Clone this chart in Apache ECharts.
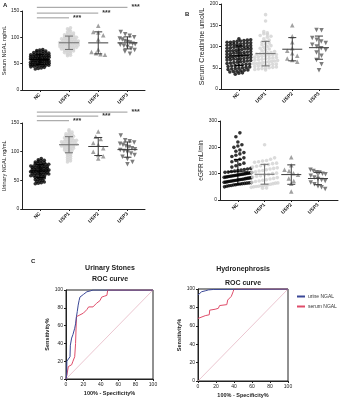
<!DOCTYPE html>
<html>
<head>
<meta charset="utf-8">
<script src="https://cdn.jsdelivr.net/npm/echarts@6/dist/echarts.min.js"></script>
<style>
  html, body { margin: 0; padding: 0; background: #fff; }
  #chart { width: 344px; height: 400px; }
</style>
</head>
<body>
<div id="chart"></div>
<script>
// group names
var cats = ['NC', 'USP1', 'USP2', 'USP3'];

// A, top: serum NGAL ng/mL
var serumNgalNC = [40,41,42,43,44,45,45,46,46,47,47,48,48,49,49,50,50,50,51,51,52,52,53,53,54,54,55,55,55,56,56,57,57,58,58,59,59,60,60,60,61,61,62,62,63,63,64,64,65,65,66,66,67,67,68,68,69,70,70,71,72,72,73,74,75,76,77];
var serumNgalUSP1 = [65,66,68,70,71,72,73,74,75,75,76,77,78,78,79,80,80,81,82,82,83,84,84,85,85,86,86,87,87,88,88,89,89,90,90,90,91,91,92,92,93,93,94,95,95,96,96,97,98,98,99,100,100,101,102,103,104,105,106,107,108,110,112,114,116,118];
var serumNgalUSP2 = [122,110,109,104,96,77,72,70,68,67];
var serumNgalUSP3 = [110,106,103,100,98,96,93,91,90,88,87,86,84,82,79,76,73,69];

// A, bottom: urinary NGAL ng/mL
var urineNgalNC = [44,45,46,47,48,49,50,51,52,53,54,55,55,56,57,58,58,59,60,60,61,61,62,62,63,63,64,64,65,65,66,66,67,67,68,68,69,69,70,70,71,71,72,72,73,73,74,74,75,75,76,76,77,78,78,79,80,80,81,82,83,84,85,86,88];
var urineNgalUSP1 = [82,84,86,88,90,92,94,95,97,98,100,101,102,103,104,105,106,107,108,108,109,110,110,111,112,112,113,114,114,115,116,116,117,118,118,119,120,120,121,122,123,124,125,126,127,128,129,130,131,132,134,136,138];
var urineNgalUSP2 = [135,126,122,115,112,106,100,94,92,88];
var urineNgalUSP3 = [128,120,118,116,114,112,110,108,106,104,103,101,99,97,94,91,87,82,78];

// B, top: serum creatinine umol/L
var creatNC = [35,37,38,40,41,42,43,44,45,46,47,48,49,50,51,52,53,54,55,56,57,58,59,60,61,62,63,64,65,66,67,68,69,70,70,71,72,73,74,75,75,76,77,78,79,80,80,81,82,83,84,85,85,86,87,88,89,90,90,91,92,93,94,95,95,96,97,98,99,100,100,101,102,103,104,105,105,106,107,108,109,110,110,111,112,113,114,115,116,118];
var creatUSP1 = [45,46,47,48,49,50,51,52,53,54,55,56,57,58,59,60,60,61,62,63,64,65,66,67,68,69,70,71,72,73,74,75,76,77,78,79,80,81,82,83,84,85,86,88,90,92,94,96,98,100,102,104,106,108,110,112,115,118,122,126,130,135,132,128,124,160,175];
var creatUSP2 = [150,124,110,96,90,84,78,72,68,64];
var creatUSP3 = [139,138,120,116,112,108,104,100,96,92,86,78,68,58,44];

// B, bottom: eGFR mL/min
var egfrNC = [50,52,54,55,57,58,60,61,62,63,64,65,66,67,68,69,70,71,72,73,74,75,76,77,78,79,80,81,82,83,84,85,86,87,88,89,90,91,92,93,94,95,96,97,98,99,100,101,102,103,104,105,106,108,110,112,114,116,118,120,125,130,135,140,145,150,155,160,165,170,175,180,185,190,200,205,210,220,240,255];
var egfrUSP1 = [45,46,48,50,51,52,54,55,57,58,60,62,64,65,67,70,72,75,77,80,82,85,87,90,92,95,97,100,102,105,107,110,112,115,118,120,122,125,128,130,133,135,138,140,143,145,148,150,155,160,210];
var egfrUSP2 = [162,132,115,110,102,96,82,72,62,32];
var egfrUSP3 = [115,110,105,104,100,98,92,85,80,76,72,66,60,52,48,42];

// significance brackets: [from group, to group]
var sigPairs = [[1, 4], [1, 3], [1, 2]];

// C: ROC curves [100% - specificity, sensitivity]
var stonesUrine = [[0,0],[0.8,4.5],[1,20],[1.5,20],[4.6,25],[5,38],[6.5,46],[8,50],[10,57],[11,62],[12,70],[13,76],[14,83],[15,88],[16,92],[18,93],[20,95],[24,98],[28,99],[31,100],[100,100]];
var stonesSerum = [[0,0],[1,4.5],[2.7,14],[4,15],[6.5,16],[8,20],[10,25],[11,40],[12,70],[14,71],[16,72],[20,74],[22,75],[24,78],[26,81],[31,81],[33,83],[35,85],[37,86],[39,88],[41,92],[44,93],[47,94],[48,100],[100,100]];
var hydroUrine = [[0,93.5],[1.5,95],[4,97],[8,98],[11.5,99],[17,99.5],[19,100],[100,100]];
var hydroSerum = [[0,68],[1.5,70],[8,71],[12.5,72],[13,77],[19,78],[22.6,79],[24,82],[32,83],[33,88],[35,90],[37,92],[39,97],[40,100],[100,100]];

var FONT = 'Liberation Sans, Arial, sans-serif';
var groupStyle = [
  { symbol: 'circle', size: 3.6, color: '#000000', bar: '#000000' },
  { symbol: 'circle', size: 3.6, color: '#d2d2d2', bar: '#6e6e6e' },
  { symbol: 'triangle', size: 4.5, color: '#8a8a8a', bar: '#3c3c3c' },
  { symbol: 'path://M0,0L10,0L5,9Z', size: 4.5, color: '#5c5c5c', bar: '#3c3c3c' }
];
// sideways spreading for dense (NC, USP1) and sparse (USP2, USP3) columns
var denseSpread = { rowPx: 2, colPx: 3, maxW: 21 };
var sparseSpread = { rowPx: 7, colPx: 5, maxW: 18 };

var panels = [
  { left: 22, top: 11, width: 123, height: 79, max: 150, interval: 50, xmin: 0.4, xmax: 4.6,
    name: 'Serum NGAL ng/mL', nameSize: 5.5, nameGap: 15, dense: denseSpread,
    groups: [serumNgalNC, serumNgalUSP1, serumNgalUSP2, serumNgalUSP3], sig: [157, 146, 137] },
  { left: 22, top: 123, width: 123, height: 86, max: 150, interval: 50, xmin: 0.4, xmax: 4.6,
    name: 'Urinary NGAL ng/mL', nameSize: 5.5, nameGap: 15, dense: denseSpread,
    groups: [urineNgalNC, urineNgalUSP1, urineNgalUSP2, urineNgalUSP3], sig: [169, 162, 154] },
  { left: 221, top: 4, width: 118, height: 85, max: 200, interval: 50, xmin: 0.33, xmax: 4.75,
    name: 'Serum Creatinine umol/L', nameSize: 7, nameGap: 14, dense: { rowPx: 3, colPx: 3.6, maxW: 27 },
    groups: [creatNC, creatUSP1, creatUSP2, creatUSP3] },
  { left: 220, top: 121, width: 118, height: 79, max: 300, interval: 100, xmin: 0.33, xmax: 4.75,
    name: 'eGFR mL/min', nameSize: 6.5, nameGap: 15, dense: { rowPx: 5, colPx: 4, maxW: 29 },
    groups: [egfrNC, egfrUSP1, egfrUSP2, egfrUSP3] }
];

// spread the points of one column sideways, row by row, like a column scatter plot
function swarm(vals, cx, p, sp) {
  var ky = p.height / p.max, kx = p.width / (p.xmax - p.xmin);
  var rows = {};
  vals.forEach(function (v) {
    var r = Math.round(v * ky / sp.rowPx);
    (rows[r] = rows[r] || []).push(v);
  });
  var out = [];
  Object.keys(rows).forEach(function (k) {
    var list = rows[k], n = list.length;
    var step = n * sp.colPx > sp.maxW ? sp.maxW / n : sp.colPx;
    list.forEach(function (v, j) {
      out.push([cx + (j - (n - 1) / 2) * step / kx, v]);
    });
  });
  return out;
}

function meanSd(vals) {
  var m = vals.reduce(function (a, b) { return a + b; }, 0) / vals.length;
  var s = Math.sqrt(vals.reduce(function (a, b) { return a + (b - m) * (b - m); }, 0) / (vals.length - 1));
  return [m, s];
}

var grids = [], xAxes = [], yAxes = [], series = [];

panels.forEach(function (p, i) {
  grids.push({ left: p.left, top: p.top, width: p.width, height: p.height });
  xAxes.push({
    type: 'value', gridIndex: i, min: p.xmin, max: p.xmax,
    axisLine: { lineStyle: { color: '#222', width: 1 } },
    axisTick: { customValues: [1, 2, 3, 4], length: 2, lineStyle: { color: '#222' } },
    axisLabel: { customValues: [1, 2, 3, 4], rotate: 45, margin: 4, fontSize: 5, fontWeight: 'bold',
      color: '#222', fontFamily: FONT, formatter: function (v) { return cats[Math.round(v) - 1]; } },
    splitLine: { show: false }
  });
  yAxes.push({
    type: 'value', gridIndex: i, min: 0, max: p.max, interval: p.interval,
    name: p.name, nameLocation: 'middle', nameGap: p.nameGap, nameRotate: 90,
    nameTextStyle: { fontSize: p.nameSize, color: '#222', fontFamily: FONT },
    axisLine: { show: true, lineStyle: { color: '#222', width: 1 } },
    axisTick: { show: true, length: 2, lineStyle: { color: '#222' } },
    axisLabel: { fontSize: 5, color: '#222', margin: 3, fontFamily: FONT },
    splitLine: { show: false }
  });
  p.groups.forEach(function (vals, g) {
    var st = groupStyle[g];
    series.push({
      type: 'scatter', xAxisIndex: i, yAxisIndex: i, symbol: st.symbol, symbolSize: st.size,
      itemStyle: { color: st.color }, silent: true, z: 2,
      data: swarm(vals, g + 1, p, g < 2 ? p.dense : sparseSpread)
    });
    var ms = meanSd(vals);
    series.push({
      type: 'custom', xAxisIndex: i, yAxisIndex: i, z: 3, silent: true,
      data: [[g + 1, ms[0], ms[0] - ms[1], ms[0] + ms[1]]],
      renderItem: function (params, api) {
        var c = api.coord([api.value(0), api.value(1)]);
        var lo = api.coord([api.value(0), api.value(2)]);
        var hi = api.coord([api.value(0), api.value(3)]);
        var sty = { stroke: st.bar, lineWidth: 1 };
        return { type: 'group', children: [
          { type: 'line', shape: { x1: c[0] - 10, y1: c[1], x2: c[0] + 10, y2: c[1] }, style: sty },
          { type: 'line', shape: { x1: c[0], y1: lo[1], x2: c[0], y2: hi[1] }, style: sty },
          { type: 'line', shape: { x1: c[0] - 4, y1: lo[1], x2: c[0] + 4, y2: lo[1] }, style: sty },
          { type: 'line', shape: { x1: c[0] - 4, y1: hi[1], x2: c[0] + 4, y2: hi[1] }, style: sty }
        ] };
      }
    });
  });
  if (p.sig) {
    sigPairs.forEach(function (pr, k) {
      series.push({
        type: 'line', xAxisIndex: i, yAxisIndex: i, clip: false, symbol: 'none', silent: true,
        lineStyle: { color: '#999', width: 1 },
        data: [[pr[0] - 0.1, p.sig[k]], [pr[1], p.sig[k]]],
        endLabel: { show: true, formatter: '***', distance: 4, fontSize: 7, fontWeight: 'bold', color: '#333' }
      });
    });
  }
});

// ROC panels
var rocPanels = [
  { left: 66, top: 290, width: 87, height: 89, urine: stonesUrine, serum: stonesSerum },
  { left: 198, top: 289, width: 90, height: 92, urine: hydroUrine, serum: hydroSerum }
];
rocPanels.forEach(function (r) {
  var i = grids.length;
  grids.push({ left: r.left, top: r.top, width: r.width, height: r.height, show: true,
    borderColor: '#222', borderWidth: 1, backgroundColor: 'transparent' });
  var axisCommon = {
    type: 'value', gridIndex: i, min: 0, max: 100, interval: 20, nameLocation: 'middle',
    nameTextStyle: { fontSize: 5.5, fontWeight: 'bold', color: '#222', fontFamily: FONT },
    axisLine: { lineStyle: { color: '#222' } },
    axisTick: { length: 2, lineStyle: { color: '#222' } },
    axisLabel: { fontSize: 5, color: '#222', margin: 3, fontFamily: FONT },
    splitLine: { show: false }
  };
  xAxes.push(Object.assign({}, axisCommon, { name: '100% - Specificity%', nameGap: 11 }));
  yAxes.push(Object.assign({}, axisCommon, { name: 'Sensitivity%', nameGap: 15, nameRotate: 90 }));
  series.push({ type: 'line', xAxisIndex: i, yAxisIndex: i, symbol: 'none', silent: true,
    lineStyle: { color: '#e6b8c4', width: 0.8 }, data: [[0, 0], [100, 100]] });
  series.push({ name: 'serum NGAL', type: 'line', xAxisIndex: i, yAxisIndex: i, symbol: 'none',
    lineStyle: { color: '#df4d6a', width: 1 }, itemStyle: { color: '#df4d6a' }, data: r.serum });
  series.push({ name: 'urine NGAL', type: 'line', xAxisIndex: i, yAxisIndex: i, symbol: 'none',
    lineStyle: { color: '#3a4796', width: 1 }, itemStyle: { color: '#3a4796' }, data: r.urine });
});

function txt(text, left, top, size, align) {
  return { text: text, left: left, top: top, textAlign: align || 'left', padding: 0,
    textStyle: { fontSize: size, fontWeight: 'bold', color: '#222', fontFamily: FONT } };
}

var option = {
  animation: false,
  backgroundColor: '#fff',
  title: [
    txt('A', 3, 2, 6),
    txt('B', 185, 11, 6),
    txt('C', 31, 258, 6),
    txt('Urinary Stones', 110, 265, 7, 'center'),
    txt('ROC curve', 110, 276, 7, 'center'),
    txt('Hydronephrosis', 243, 266, 7, 'center'),
    txt('ROC curve', 243, 280, 7, 'center')
  ],
  legend: {
    data: ['urine NGAL', 'serum NGAL'], orient: 'vertical', left: 297, top: 294, padding: 0,
    itemWidth: 8, itemHeight: 2, itemGap: 5, icon: 'rect',
    textStyle: { fontSize: 5, color: '#333', fontFamily: FONT, padding: [0, 0, 0, -2] }
  },
  grid: grids,
  xAxis: xAxes,
  yAxis: yAxes,
  series: series
};

var chart = echarts.init(document.getElementById('chart'), null, { renderer: 'canvas' });
chart.setOption(option);
</script>
</body>
</html>
